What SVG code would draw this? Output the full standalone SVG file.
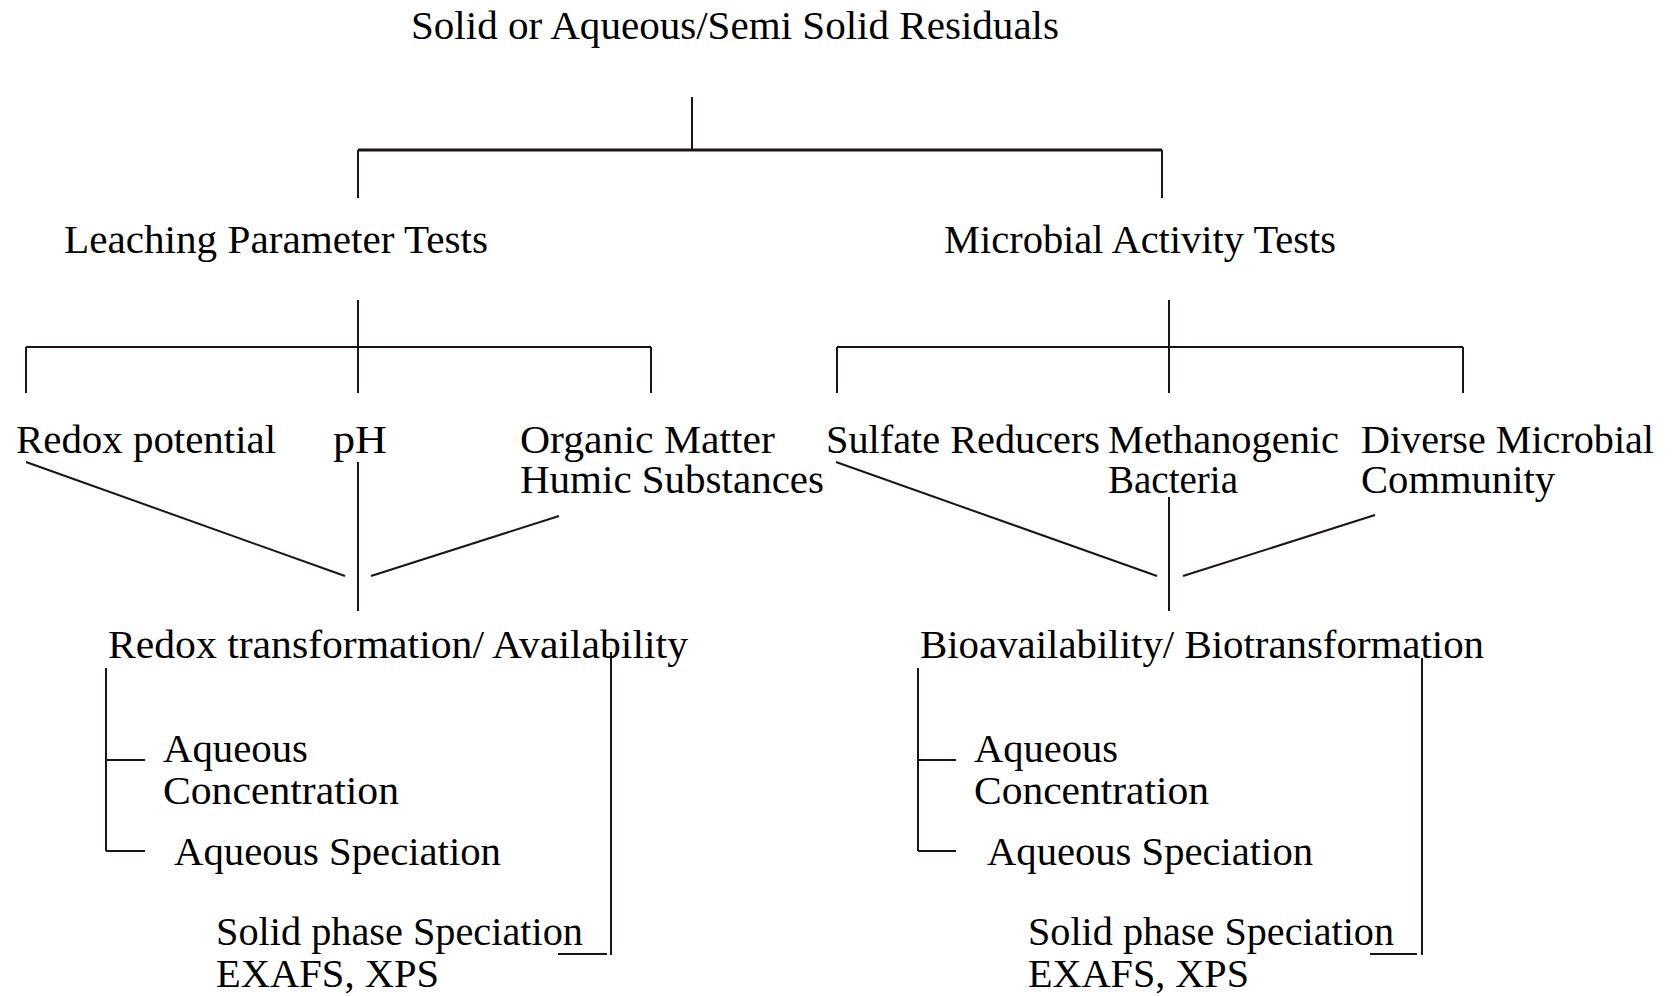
<svg xmlns="http://www.w3.org/2000/svg" width="1672" height="996" viewBox="0 0 1672 996">
<style>
text{font-family:"Liberation Serif","Times New Roman",serif;font-size:40px;fill:#000}
.c line{stroke:#1e1212;stroke-width:2;fill:none}
.c .thick{stroke-width:3}
</style>
<rect width="1672" height="996" fill="#fff"/>
<g class="c" id="connectors">
<line x1="692" y1="97" x2="692" y2="150"/>
<line class="thick" x1="358" y1="150" x2="1162" y2="150"/>
<line x1="358" y1="150" x2="358" y2="198"/>
<line x1="1162" y1="150" x2="1162" y2="198"/>
<line x1="358" y1="300" x2="358" y2="393"/>
<line x1="26" y1="347" x2="651" y2="347"/>
<line x1="26" y1="347" x2="26" y2="393"/>
<line x1="651" y1="347" x2="651" y2="393"/>
<line x1="1169" y1="300" x2="1169" y2="393"/>
<line x1="837" y1="347" x2="1463" y2="347"/>
<line x1="837" y1="347" x2="837" y2="393"/>
<line x1="1463" y1="347" x2="1463" y2="393"/>
<line x1="26" y1="462" x2="345" y2="576"/>
<line x1="358" y1="462" x2="358" y2="611"/>
<line x1="559" y1="516" x2="371" y2="576"/>
<line x1="836" y1="462" x2="1157" y2="576"/>
<line x1="1169" y1="497" x2="1169" y2="611"/>
<line x1="1375" y1="515" x2="1183" y2="576"/>
<line x1="106" y1="668" x2="106" y2="851"/>
<line x1="106" y1="760" x2="145" y2="760"/>
<line x1="106" y1="851" x2="145" y2="851"/>
<line x1="611" y1="652" x2="611" y2="955"/>
<line x1="558" y1="954" x2="607" y2="954"/>
<line x1="918" y1="668" x2="918" y2="851"/>
<line x1="918" y1="760" x2="956" y2="760"/>
<line x1="918" y1="851" x2="956" y2="851"/>
<line x1="1422" y1="658" x2="1422" y2="955"/>
<line x1="1370" y1="954" x2="1417" y2="954"/>
</g>
<g id="root"><text x="411" y="39" textLength="648" lengthAdjust="spacingAndGlyphs">Solid or Aqueous/Semi Solid Residuals</text></g>
<g id="leaching"><text x="64" y="253" textLength="424" lengthAdjust="spacingAndGlyphs">Leaching Parameter Tests</text></g>
<g id="microbial"><text x="944" y="253" textLength="392" lengthAdjust="spacingAndGlyphs">Microbial Activity Tests</text></g>
<g id="redox-potential"><text x="16" y="453" textLength="260" lengthAdjust="spacingAndGlyphs">Redox potential</text></g>
<g id="ph"><text x="333" y="453" textLength="54" lengthAdjust="spacingAndGlyphs">pH</text></g>
<g id="organic"><text x="520" y="453" textLength="255" lengthAdjust="spacingAndGlyphs">Organic Matter</text><text x="520" y="493" textLength="304" lengthAdjust="spacingAndGlyphs">Humic Substances</text></g>
<g id="sulfate"><text x="826" y="453" textLength="274" lengthAdjust="spacingAndGlyphs">Sulfate Reducers</text></g>
<g id="methanogenic"><text x="1108" y="453" textLength="231" lengthAdjust="spacingAndGlyphs">Methanogenic</text><text x="1108" y="493" textLength="130" lengthAdjust="spacingAndGlyphs">Bacteria</text></g>
<g id="diverse"><text x="1361" y="453" textLength="293" lengthAdjust="spacingAndGlyphs">Diverse Microbial</text><text x="1361" y="493" textLength="194" lengthAdjust="spacingAndGlyphs">Community</text></g>
<g id="redox-transformation"><text x="108" y="658" textLength="580" lengthAdjust="spacingAndGlyphs">Redox transformation/ Availability</text></g>
<g id="bioavailability"><text x="920" y="658" textLength="564" lengthAdjust="spacingAndGlyphs">Bioavailability/ Biotransformation</text></g>
<g id="aq-conc-left"><text x="163" y="762" textLength="145" lengthAdjust="spacingAndGlyphs">Aqueous</text><text x="163" y="804" textLength="236" lengthAdjust="spacingAndGlyphs">Concentration</text></g>
<g id="aq-spec-left"><text x="174" y="865" textLength="327" lengthAdjust="spacingAndGlyphs">Aqueous Speciation</text></g>
<g id="solid-left"><text x="216" y="945" textLength="367" lengthAdjust="spacingAndGlyphs">Solid phase Speciation</text><text x="216" y="987" textLength="223" lengthAdjust="spacingAndGlyphs">EXAFS, XPS</text></g>
<g id="aq-conc-right"><text x="974" y="762" textLength="144" lengthAdjust="spacingAndGlyphs">Aqueous</text><text x="974" y="804" textLength="235" lengthAdjust="spacingAndGlyphs">Concentration</text></g>
<g id="aq-spec-right"><text x="987" y="865" textLength="326" lengthAdjust="spacingAndGlyphs">Aqueous Speciation</text></g>
<g id="solid-right"><text x="1028" y="945" textLength="366" lengthAdjust="spacingAndGlyphs">Solid phase Speciation</text><text x="1028" y="987" textLength="221" lengthAdjust="spacingAndGlyphs">EXAFS, XPS</text></g>
</svg>
